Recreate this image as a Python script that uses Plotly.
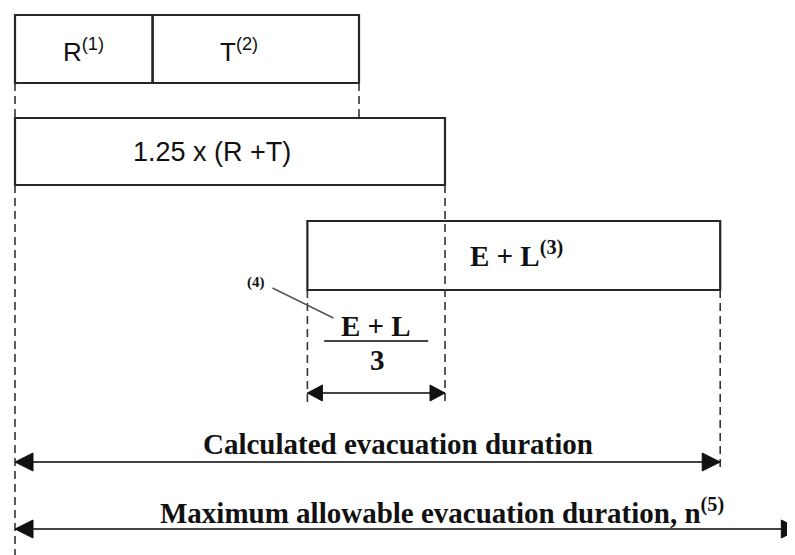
import plotly.graph_objects as go

# ---- data (durations, arbitrary time units) ----
R = 10.0            # (1)
T = 15.0            # (2)
FACTOR = 1.25
EL = 30.0           # (3) E + L
N_MAX = 57.0        # (5) maximum allowable evacuation duration

box_labels = ["R<sup>(1)</sup>", "T<sup>(2)</sup>", "1.25 x (R +T)", "<b>E + L<sup>(3)</sup></b>"]
arrow_labels = ["<b>Calculated evacuation duration</b>",
                "<b>Maximum allowable evacuation duration, n<sup>(5)</sup></b>"]

# derived
t_rt = R + T
t_125 = FACTOR * t_rt
t_el_start = t_125 - EL / 3
t_calc = t_el_start + EL

# ---- layout constants ----
W, H = 795, 555
OFF = 8          # page body margin offset of the figure
K = 13.76        # px per unit
X0 = 15
xr = [-(X0 - OFF) / K, (W - X0 + OFF) / K]

LINE = "#262626"
DASH = dict(color="#333333", width=1.6, dash="8px,5px")
SERIF = "Liberation Serif"
SANS = "Liberation Sans"

shapes = []
annotations = []


def rect(x0, x1, y0, y1):
    shapes.append(dict(type="rect", xref="x", yref="y", x0=x0, x1=x1, y0=y0, y1=y1,
                       line=dict(color=LINE, width=2.2), fillcolor="rgba(0,0,0,0)", layer="above"))


def vline(x, y0, y1):
    shapes.append(dict(type="line", xref="x", yref="y", x0=x, x1=x, y0=y0, y1=y1, line=DASH))


def harrow(x0, x1, y, head=18, half=9):
    shapes.append(dict(type="line", xref="x", yref="y", x0=x0, x1=x1, y0=y, y1=y,
                       line=dict(color="#444444", width=2)))
    shapes.append(dict(type="path", xref="x", yref="y", xsizemode="pixel", ysizemode="pixel",
                       xanchor=x0, yanchor=y, path=f"M0,0 L{head},{half} L{head},-{half} Z",
                       fillcolor="#111111", line=dict(color="#111111", width=1)))
    shapes.append(dict(type="path", xref="x", yref="y", xsizemode="pixel", ysizemode="pixel",
                       xanchor=x1, yanchor=y, path=f"M0,0 L-{head},{half} L-{head},-{half} Z",
                       fillcolor="#111111", line=dict(color="#111111", width=1)))


def text(x, y, s, size, font, xanchor="center"):
    annotations.append(dict(x=x, y=y, xref="x", yref="y", text=s, showarrow=False,
                            xanchor=xanchor, yanchor="middle",
                            font=dict(family=font, size=size, color="#111111")))


# row 1: R | T
rect(0, R, 15, 83)
rect(R, t_rt, 15, 83)
text(R / 2, 50, box_labels[0], 26, SANS)
text(R + T * 0.42, 50, box_labels[1], 26, SANS)
vline(0, 83, 118)
vline(t_rt, 83, 118)

# row 2: 1.25 x (R+T)
rect(0, t_125, 118, 185)
text(t_125 * 0.458, 152, box_labels[2], 27, SANS)

# row 3: E + L
rect(t_el_start, t_calc, 221, 290)
text(t_125 + 1.65, 254, box_labels[3], 29, SERIF, xanchor="left")

# dashed guides
vline(0, 185, 560)
vline(t_125, 185, 405)
vline(t_el_start, 290, 405)
vline(t_calc, 290, 470)

# (E+L)/3 fraction and arrow
xc = t_el_start + EL / 6
text(xc, 326, "<b>E + L</b>", 29, SERIF)
shapes.append(dict(type="line", xref="x", yref="y", x0=xc - 3.78, x1=xc + 3.78, y0=341, y1=341,
                   line=dict(color="#444444", width=2)))
text(xc + 0.1, 360, "<b>3</b>", 29, SERIF)
text(t_el_start - 3.7, 282, "<b>(4)</b>", 15, SERIF)
shapes.append(dict(type="line", xref="x", yref="y", x0=t_el_start - 2.54, x1=t_el_start + 1.89,
                   y0=288, y1=318, line=dict(color="#555555", width=1.5)))
harrow(t_el_start, t_125, 393, head=15, half=8)

# total durations
harrow(0, t_calc, 462)
text(t_calc / 2 + 2.2, 444, arrow_labels[0], 29, SERIF)
harrow(0, N_MAX, 529)
text(31.0, 511, arrow_labels[1], 29, SERIF)

fig = go.Figure()
fig.add_trace(go.Scatter(x=[0, N_MAX], y=[300, 300], mode="markers", marker=dict(opacity=0),
                         hoverinfo="skip", showlegend=False))
fig.update_layout(
    width=W, height=H, autosize=False,
    margin=dict(l=0, r=0, t=0, b=0),
    paper_bgcolor="white", plot_bgcolor="white",
    showlegend=False,
    xaxis=dict(range=xr, visible=False, fixedrange=True),
    yaxis=dict(range=[H + OFF, OFF], visible=False, fixedrange=True),
    shapes=shapes, annotations=annotations,
)
fig.write_html("out.html")
